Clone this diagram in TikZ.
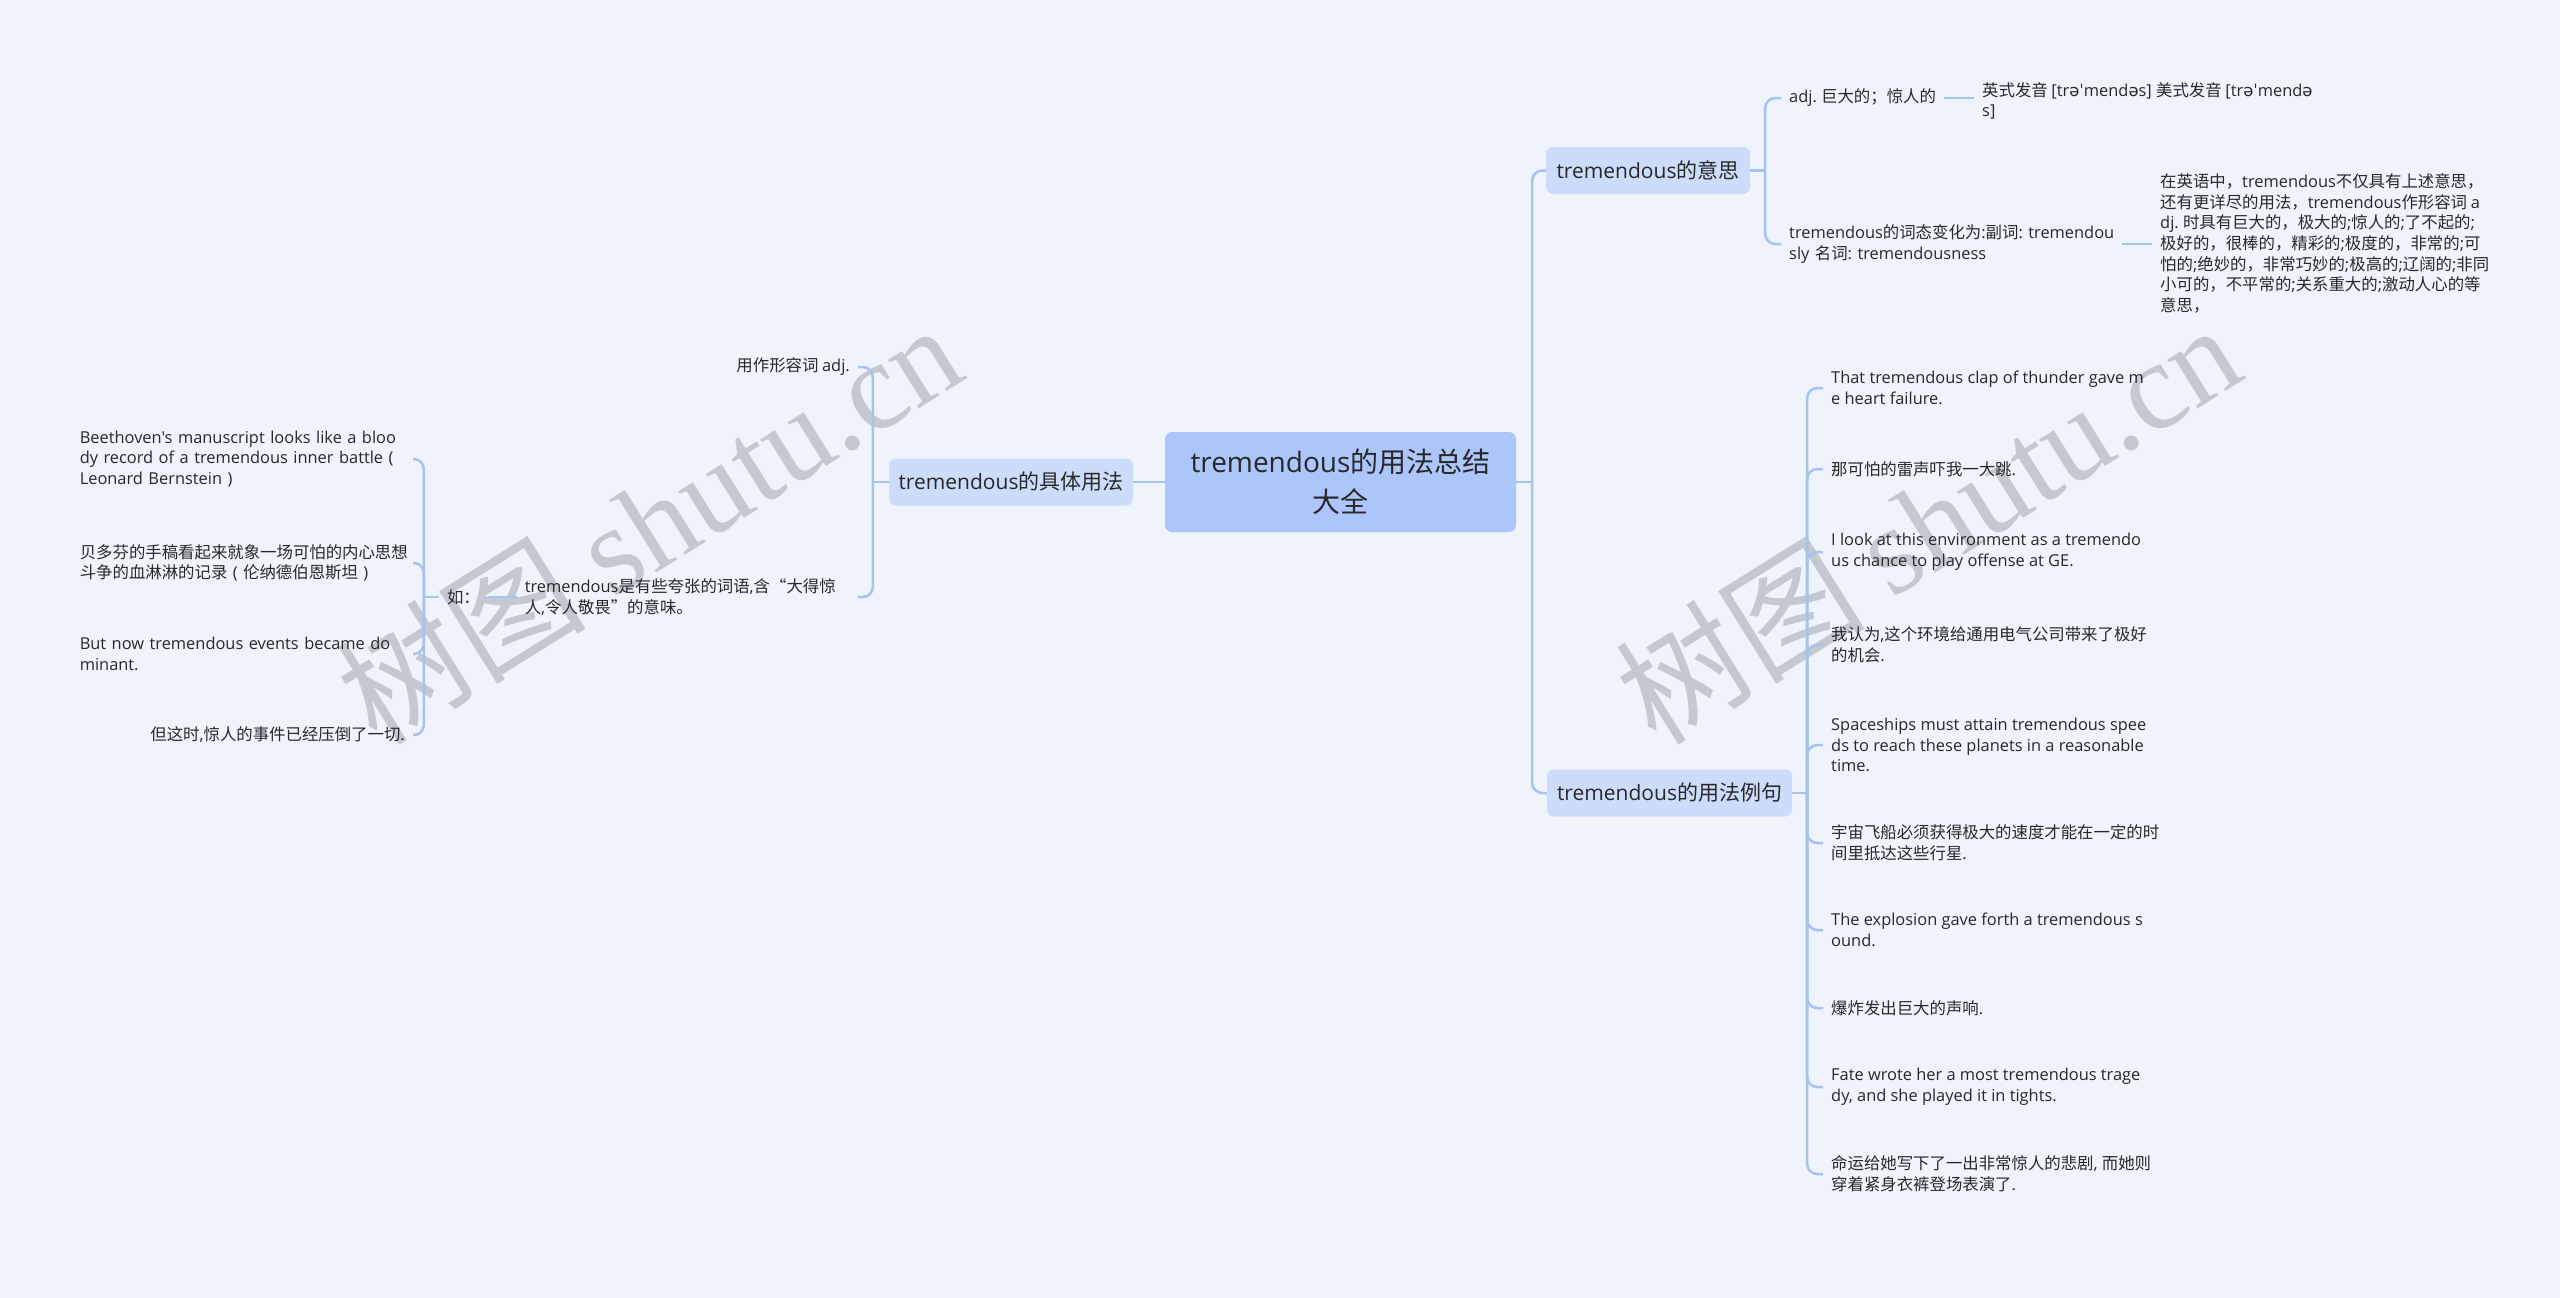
\documentclass[tikz,border=0pt]{standalone}
\usepackage{fontspec}
\setmainfont{Open Sans}
\newfontfamily\myopensans{Open Sans}
\newfontfamily\mynotocjk{Noto Sans CJK SC}
\newfontfamily\myserif{Liberation Serif}
\newfontfamily\myipafont{DejaVu Sans}
\newcommand\mylatin{\myopensans}
\newcommand\mycjk{\mynotocjk}
\newcommand\myipa{\myipafont}
\chardef\mycjkcls=200
\chardef\myipacls=201
\newcount\mycnt
\mycnt="2E80
\loop
  \XeTeXcharclass\mycnt=\mycjkcls
  \ifnum\mycnt<"9FFF \advance\mycnt by 1
\repeat
\mycnt="FF00
\loop
  \XeTeXcharclass\mycnt=\mycjkcls
  \ifnum\mycnt<"FFEF \advance\mycnt by 1
\repeat
\XeTeXcharclass"201C=\mycjkcls
\XeTeXcharclass"201D=\mycjkcls
\XeTeXcharclass"0259=\myipacls
\XeTeXcharclass"02C8=\myipacls
\XeTeXinterchartoks 0 \mycjkcls = {\mycjk}
\XeTeXinterchartoks \mycjkcls 0 = {\mylatin}
\XeTeXinterchartoks 4095 \mycjkcls = {\mycjk}
\XeTeXinterchartoks 4095 0 = {\mylatin}
\XeTeXinterchartoks 0 \myipacls = {\myipa}
\XeTeXinterchartoks \mycjkcls \myipacls = {\myipa}
\XeTeXinterchartoks 4095 \myipacls = {\myipa}
\XeTeXinterchartoks \myipacls 0 = {\mylatin}
\XeTeXinterchartoks \myipacls \mycjkcls = {\mycjk}
\XeTeXinterchartokenstate=1
\newcommand\myl[1]{\mbox{#1}}

\definecolor{bgc}{RGB}{238,243,252}
\definecolor{linec}{RGB}{168,194,240}
\definecolor{rootc}{RGB}{172,197,250}
\definecolor{subc}{RGB}{205,220,250}
\definecolor{txtc}{RGB}{40,40,40}
\definecolor{wmc}{RGB}{196,200,208}

\tikzset{
  conn/.style={draw=linec, line width=2.5pt, rounded corners=10pt},
  rootbox/.style={fill=rootc, rounded corners=7pt, minimum width=351pt, minimum height=100pt, align=center, text=txtc, inner sep=0pt, font=\fontsize{28}{40}\selectfont},
  subbox/.style={fill=subc, rounded corners=7pt, minimum height=47pt, text=txtc, inner sep=0pt, font=\fontsize{21}{26}\selectfont},
  leaf/.style={align=left, text=txtc, inner xsep=8pt, inner ysep=2pt, font=\fontsize{16.4}{20.6}\selectfont},
  wrapped/.style={text width=325pt},
  wmark/.style={text=wmc, rotate=32, inner sep=0pt, font={\def\mylatin{\myserif}\fontsize{125}{125}\selectfont}}
}

\begin{document}
\frenchspacing
\begin{tikzpicture}[x=1pt,y=-1pt]
\path[use as bounding box, fill=bgc] (0,0) rectangle (2560,1298);

% watermarks
\node[wmark] (wm1) at (648,522) {树图 shutu.cn};
\node[wmark] (wm2) at (1927,522) {树图 shutu.cn};

% central and main branches
\node[rootbox] (root) at (1340.5,482) {tremendous的用法总结\\大全};
\node[subbox, minimum width=204pt] (yisi) at (1648,170.5) {tremendous的意思};
\node[subbox, minimum width=244pt] (juti) at (1011,482) {tremendous的具体用法};
\node[subbox, minimum width=245pt] (liju) at (1669.5,793) {tremendous的用法例句};

% meaning branch
\node[leaf, anchor=west] (adj) at (1781,98) {adj. 巨大的；惊人的};
\node[leaf, anchor=west] (pron) at (1974,101) {英式发音 [trəˈmendəs] 美式发音 [trəˈmendə\\s]};
\node[leaf, wrapped, anchor=west] (morph) at (1781,244) {\myl{tremendous的词态变化为:副词: tremendou}\\\myl{sly 名词: tremendousness}};
\node[leaf, anchor=west] (detail) at (2152,243.5) {在英语中，tremendous不仅具有上述意思，\\还有更详尽的用法，tremendous作形容词 a\\dj. 时具有巨大的，极大的;惊人的;了不起的;\\极好的，很棒的，精彩的;极度的，非常的;可\\怕的;绝妙的，非常巧妙的;极高的;辽阔的;非同\\小可的，不平常的;关系重大的;激动人心的等\\意思，};

% examples branch
\node[leaf, anchor=west] (e1) at (1823,388) {That tremendous clap of thunder gave m\\e heart failure.};
\node[leaf, anchor=west] (e2) at (1823,469) {那可怕的雷声吓我一大跳.};
\node[leaf, anchor=west] (e3) at (1823,552) {I look at this environment as a tremendo\\us chance to play offense at GE.};
\node[leaf, anchor=west] (e4) at (1823,645) {我认为,这个环境给通用电气公司带来了极好\\的机会.};
\node[leaf, anchor=west] (e5) at (1823,745) {Spaceships must attain tremendous spee\\ds to reach these planets in a reasonable\\time.};
\node[leaf, anchor=west] (e6) at (1823,843) {宇宙飞船必须获得极大的速度才能在一定的时\\间里抵达这些行星.};
\node[leaf, anchor=west] (e7) at (1823,930) {The explosion gave forth a tremendous s\\ound.};
\node[leaf, anchor=west] (e8) at (1823,1008) {爆炸发出巨大的声响.};
\node[leaf, anchor=west] (e9) at (1823,1087) {Fate wrote her a most tremendous trage\\dy, and she played it in tights.};
\node[leaf, anchor=west] (e10) at (1823,1174) {命运给她写下了一出非常惊人的悲剧, 而她则\\穿着紧身衣裤登场表演了.};

% usage branch (left)
\node[leaf, anchor=east] (adjuse) at (858,367) {用作形容词 adj.};
\node[leaf, wrapped, anchor=east] (kuazhang) at (858,597) {\myl{tremendous是有些夸张的词语,含“大得惊}\\\myl{人,令人敬畏”的意味。}};
\node[leaf, anchor=east] (ru) at (488,597) {如：};
\node[leaf, wrapped, anchor=east] (s1) at (413,459) {\myl{Beethoven's manuscript looks like a bloo}\\\myl{dy record of a tremendous inner battle (}\\\myl{Leonard Bernstein )}};
\node[leaf, wrapped, anchor=east] (s2) at (413,563) {\myl{贝多芬的手稿看起来就象一场可怕的内心思想}\\\myl{斗争的血淋淋的记录 ( 伦纳德伯恩斯坦 )}};
\node[leaf, wrapped, anchor=east] (s3) at (413,654) {\myl{But now tremendous events became do}\\\myl{minant.}};
\node[leaf, anchor=east] (s4) at (413,735) {但这时,惊人的事件已经压倒了一切.};

% connectors
\draw[conn] (root.east) -- ++(16,0) coordinate (rj);
\draw[conn] (rj) |- (yisi.west);
\draw[conn] (rj) |- (liju.west);
\draw[conn] (root.west) -- (juti.east);

\draw[conn] (yisi.east) -- ++(15,0) coordinate (yj);
\draw[conn] (yj) |- (adj.west);
\draw[conn] (yj) |- (morph.west);
\draw[conn] (adj.east) -- (adj.east -| pron.west);
\draw[conn] (morph.east) -- (morph.east -| detail.west);

\draw[conn] (liju.east) -- ++(15,0) coordinate (lj);
\foreach \n in {e1,e2,e3,e4,e5,e6,e7,e8,e9,e10}
  \draw[conn] (lj) |- (\n.west);

\draw[conn] (juti.west) -- ++(-16,0) coordinate (jj);
\draw[conn] (jj) |- (adjuse.east);
\draw[conn] (jj) |- (kuazhang.east);
\draw[conn] (kuazhang.west) -- (ru.east);

\draw[conn] (ru.west) -- ++(-15,0) coordinate (rr);
\foreach \n in {s1,s2,s3,s4}
  \draw[conn] (rr) |- (\n.east);
\end{tikzpicture}
\end{document}
